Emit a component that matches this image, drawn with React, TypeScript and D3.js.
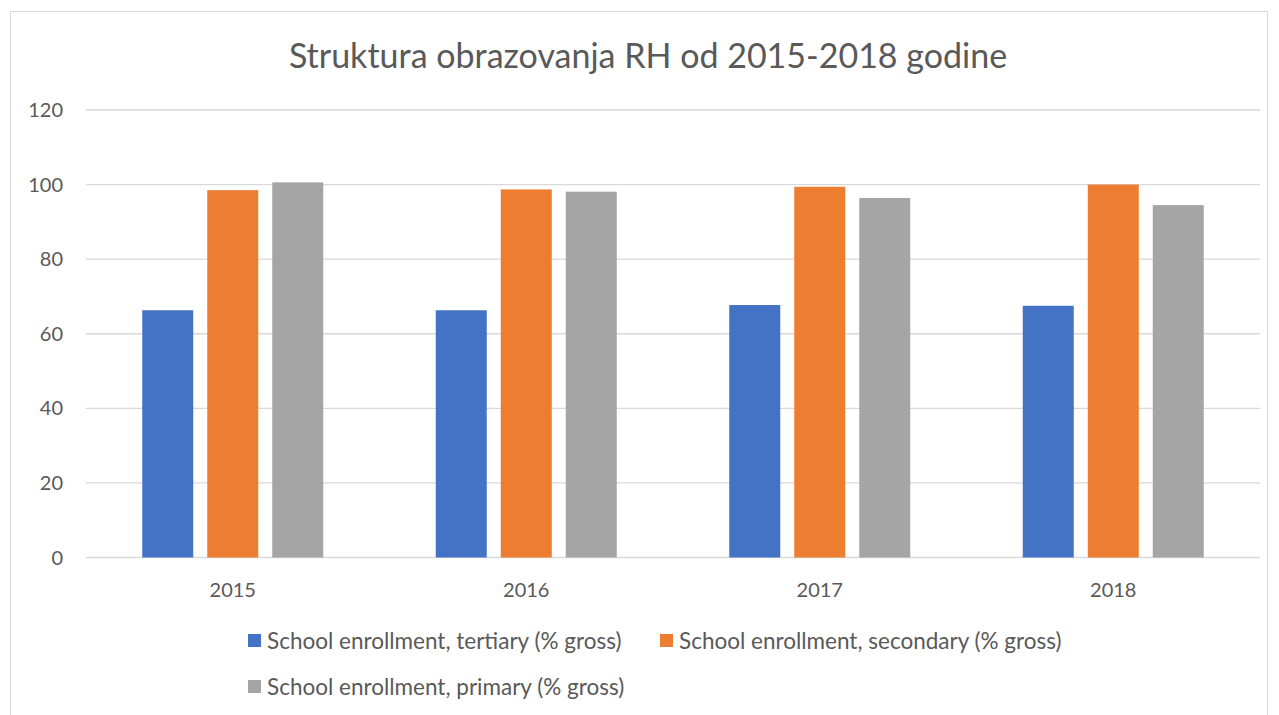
import React from "react";
import * as d3 from "d3";

const years = ["2015", "2016", "2017", "2018"];
const seriesNames = [
  "School enrollment, tertiary (% gross)",
  "School enrollment, secondary (% gross)",
  "School enrollment, primary (% gross)",
];
const tertiary = [66.3, 66.3, 67.7, 67.5];
const secondary = [98.5, 98.7, 99.4, 100.0];
const primary = [100.6, 98.1, 96.4, 94.5];
const yTicks = [0, 20, 40, 60, 80, 100, 120];
const colors = ["#4472C4", "#ED7D31", "#A5A5A5"];
const title = "Struktura obrazovanja RH od 2015-2018 godine";

export default function App() {
  const W = 1279, H = 715;
  const left = 86, right = 1260, top = 110, bottom = 557.5;
  const font = "Lato, 'Open Sans', sans-serif";
  const textColor = "#595959";
  const series = [tertiary, secondary, primary];

  const x = d3.scaleBand<string>().domain(years).range([left, right]).paddingInner(0).paddingOuter(0);
  const y = d3.scaleLinear().domain([0, 120]).range([bottom, top]);
  const barW = 51, gap = 14;
  const groupW = barW * 3 + gap * 2;

  return (
    <svg width={W} height={H} style={{ position: "absolute", left: 0, top: 0, background: "#fff" }}>
      <rect x={10.5} y={11.5} width={1257} height={720} fill="#fff" stroke="#D9D9D9" strokeWidth={1} />
      <text x={648} y={68} textAnchor="middle" fontFamily={font} fontSize={34} fill={textColor}>{title}</text>
      {yTicks.map((t) => (
        <g key={t}>
          <line x1={left} x2={right} y1={y(t)} y2={y(t)} stroke="#D9D9D9" strokeWidth={1.3} />
          <text x={63} y={y(t) + 7} textAnchor="end" fontFamily={font} fontSize={20} fill={textColor}>{t}</text>
        </g>
      ))}
      {years.map((yr, i) => {
        const cx = (x(yr) as number) + x.bandwidth() / 2;
        const x0 = cx - groupW / 2;
        return (
          <g key={yr}>
            {series.map((s, j) => (
              <rect key={j} x={x0 + j * (barW + gap)} y={y(s[i])} width={barW} height={bottom - y(s[i])} fill={colors[j]} />
            ))}
            <text x={cx} y={597} textAnchor="middle" fontFamily={font} fontSize={20} fill={textColor}>{yr}</text>
          </g>
        );
      })}
      {[
        { x: 248, y: 642 },
        { x: 660, y: 642 },
        { x: 248, y: 688 },
      ].map((p, j) => (
        <g key={j}>
          <rect x={p.x} y={p.y - 8} width={13} height={13} fill={colors[j]} />
          <text x={p.x + 19} y={p.y + 7} fontFamily={font} fontSize={22.5} fill={textColor}>{seriesNames[j]}</text>
        </g>
      ))}
    </svg>
  );
}
